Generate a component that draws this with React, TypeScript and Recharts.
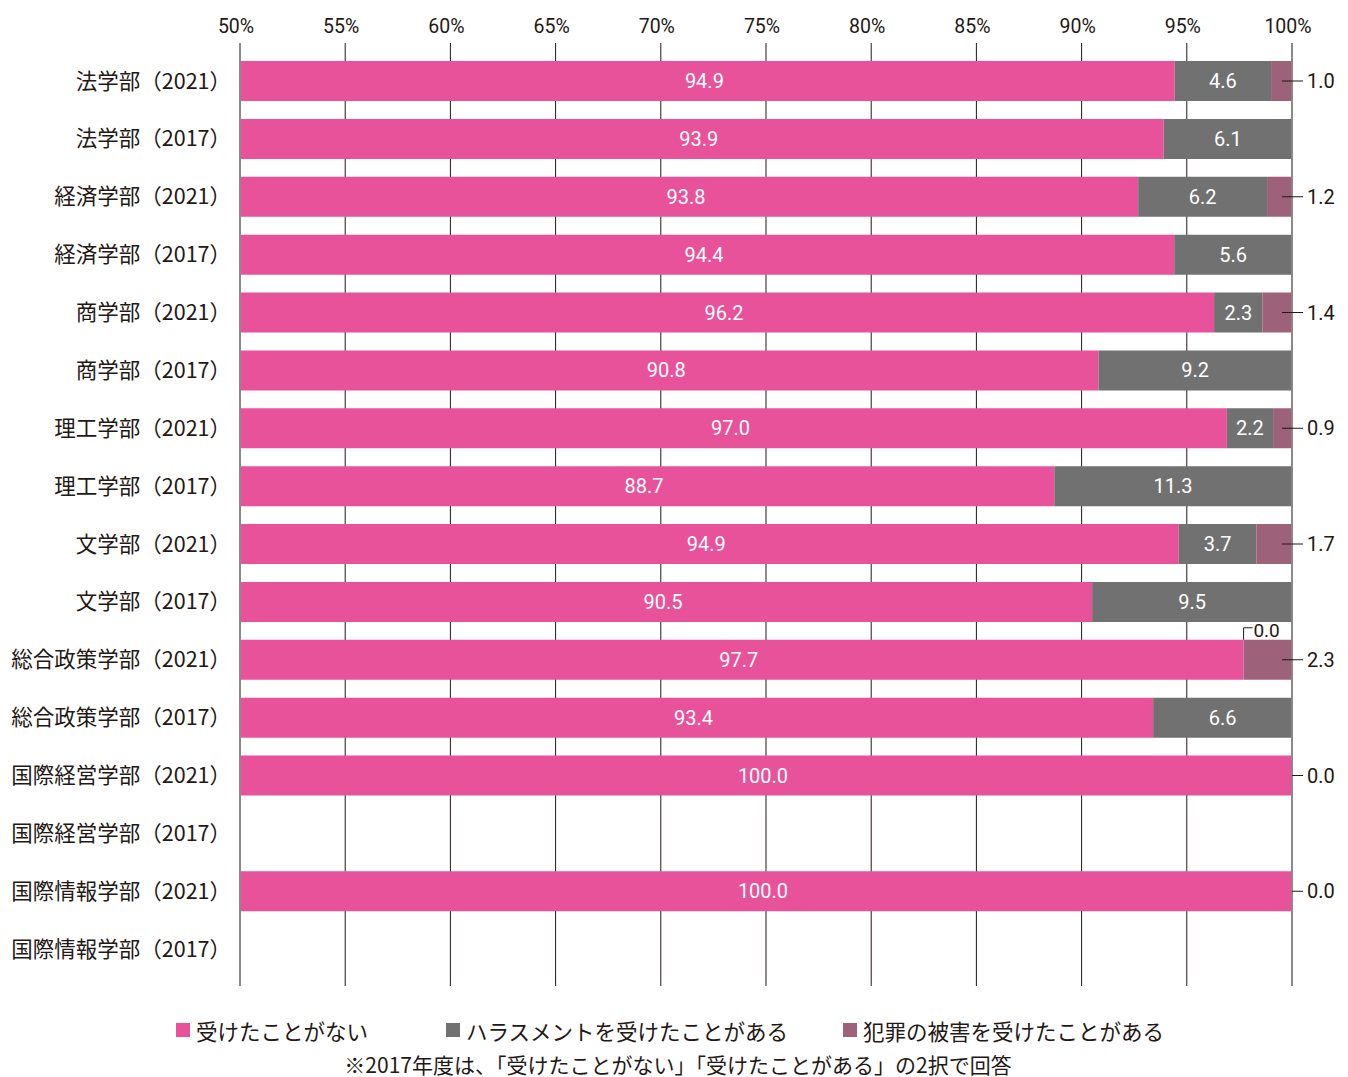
import {
  BarChart,
  Bar,
  XAxis,
  YAxis,
  CartesianGrid,
  ReferenceLine,
  LabelList
} from "recharts";

const categories = [
  "法学部（2021）",
  "法学部（2017）",
  "経済学部（2021）",
  "経済学部（2017）",
  "商学部（2021）",
  "商学部（2017）",
  "理工学部（2021）",
  "理工学部（2017）",
  "文学部（2021）",
  "文学部（2017）",
  "総合政策学部（2021）",
  "総合政策学部（2017）",
  "国際経営学部（2021）",
  "国際経営学部（2017）",
  "国際情報学部（2021）",
  "国際情報学部（2017）"
];

// 受けたことがない
const neverValues = [94.9, 93.9, 93.8, 94.4, 96.2, 90.8, 97.0, 88.7, 94.9, 90.5, 97.7, 93.4, 100.0, null, 100.0, null];
// ハラスメントを受けたことがある
const harassmentValues = [4.6, 6.1, 6.2, 5.6, 2.3, 9.2, 2.2, 11.3, 3.7, 9.5, 0.0, 6.6, null, null, null, null];
// 犯罪の被害を受けたことがある
const crimeValues = [1.0, null, 1.2, null, 1.4, null, 0.9, null, 1.7, null, 2.3, null, 0.0, null, 0.0, null];

const seriesNames = ["受けたことがない", "ハラスメントを受けたことがある", "犯罪の被害を受けたことがある"];
const xTicks = [50, 55, 60, 65, 70, 75, 80, 85, 90, 95, 100];
const note = "※2017年度は、「受けたことがない」「受けたことがある」の2択で回答";

const PINK = "#E8529A";
const GRAY = "#727171";
const MAUVE = "#9E617A";
const INK = "#231815";
const PLOT_LEFT = 232;

// 元の図は回答の合計を100%として描いている
const data = categories.map((name, i) => {
  const a = neverValues[i];
  const b = harassmentValues[i];
  const c = crimeValues[i];
  const total = (a ?? 0) + (b ?? 0) + (c ?? 0);
  const share = (v: number | null) => (v == null || total === 0 ? null : (v / total) * 100);
  return {
    name,
    never: share(a),
    harassment: share(b),
    crime: share(c),
    neverRaw: a,
    harassmentRaw: b,
    crimeRaw: c
  };
});

const numFont = "Roboto, 'Liberation Sans', sans-serif";
const jpFont = "'Noto Sans CJK JP', sans-serif";

function box(props: any) {
  const vb = props.viewBox ?? props;
  return { x: Number(vb.x), y: Number(vb.y), width: Number(vb.width), height: Number(vb.height) };
}

// 幅0の棒はラベルが出ないので、0.0 の表示は左隣の棒の端から描く
function zeroHarassment(x: number, y: number) {
  return (
    <g>
      <polyline points={`${x},${y} ${x},${y - 12} ${x + 9},${y - 12}`} fill="none" stroke={INK} strokeWidth={1} />
      <text x={x + 23} y={y - 9} textAnchor="middle" dominantBaseline="central" fill={INK} fontSize={19} fontFamily={numFont}>
        0.0
      </text>
    </g>
  );
}

function crimeMark(x: number, right: number, cy: number, v: number) {
  return (
    <g>
      <line x1={Math.max(x, right - 10)} y1={cy} x2={right + 11} y2={cy} stroke={INK} strokeWidth={1} />
      <text x={right + 15} y={cy} textAnchor="start" dominantBaseline="central" fill={INK} fontSize={20} fontFamily={numFont}>
        {v.toFixed(1)}
      </text>
    </g>
  );
}

function NeverLabel(props: any) {
  const row = props.value;
  if (!row || row.neverRaw == null) return null;
  const { x, y, width, height } = box(props);
  const left = Math.max(x, PLOT_LEFT);
  const right = x + width;
  const cx = (left + right) / 2 - 3;
  const cy = y + height / 2;
  return (
    <g>
      <text x={cx} y={cy} textAnchor="middle" dominantBaseline="central" fill="#fff" fontSize={20} fontFamily={numFont}>
        {Number(row.neverRaw).toFixed(1)}
      </text>
      {row.harassmentRaw === 0 ? zeroHarassment(right, y) : null}
      {row.harassmentRaw == null && row.crimeRaw === 0 ? crimeMark(right, right, cy, 0) : null}
    </g>
  );
}

function HarassmentLabel(props: any) {
  const v = props.value;
  if (v == null || Number(v) === 0) return null;
  const { x, y, width, height } = box(props);
  return (
    <text x={x + width / 2} y={y + height / 2} textAnchor="middle" dominantBaseline="central" fill="#fff" fontSize={20} fontFamily={numFont}>
      {Number(v).toFixed(1)}
    </text>
  );
}

function CrimeLabel(props: any) {
  const v = props.value;
  if (v == null || Number(v) === 0) return null;
  const { x, y, width, height } = box(props);
  return crimeMark(x, x + width, y + height / 2, Number(v));
}

function App() {
  const colors = [PINK, GRAY, MAUVE];
  const legendX = [168, 438, 835];

  return (
    <div style={{ position: "relative", width: 1340, height: 1068, background: "#fff" }}>
      <BarChart
        width={1340}
        height={1000}
        data={data}
        layout="vertical"
        barSize={40}
        margin={{ top: 5, right: 56, bottom: 22, left: 0 }}
      >
        <CartesianGrid horizontal={false} stroke={INK} />
        <XAxis
          type="number"
          orientation="top"
          domain={[50, 100]}
          allowDataOverflow
          ticks={xTicks}
          interval={0}
          tickFormatter={(v: number) => `${v}%`}
          axisLine={false}
          tickLine={false}
          tickSize={0}
          tickMargin={10}
          height={30}
          tick={{ fill: INK, fontSize: 19.5, fontFamily: numFont, dx: -4 }}
        />
        <YAxis
          type="category"
          dataKey="name"
          width={232}
          interval={0}
          axisLine={false}
          tickLine={false}
          tickSize={0}
          tickMargin={9}
          padding={{ top: 9, bottom: 8 }}
          tick={{ fill: INK, fontSize: 21.5, fontFamily: jpFont }}
        />
        <Bar dataKey="never" stackId="a" fill={PINK} isAnimationActive={false}>
          <LabelList dataKey={(row: any) => row} content={NeverLabel} />
        </Bar>
        <Bar dataKey="harassment" stackId="a" fill={GRAY} isAnimationActive={false}>
          <LabelList dataKey="harassmentRaw" content={HarassmentLabel} />
        </Bar>
        <Bar dataKey="crime" stackId="a" fill={MAUVE} isAnimationActive={false}>
          <LabelList dataKey="crimeRaw" content={CrimeLabel} />
        </Bar>
        <ReferenceLine x={50} stroke="#8a8a8a" strokeWidth={1.5} />
        <ReferenceLine x={100} stroke="#8a8a8a" strokeWidth={1.5} />
      </BarChart>

      {/* 凡例 */}
      {seriesNames.map((s, i) => (
        <div
          key={s}
          style={{
            position: "absolute",
            left: legendX[i],
            top: 1010,
            height: 24,
            display: "flex",
            alignItems: "center",
            fontFamily: jpFont,
            fontSize: 21.5,
            color: INK,
            whiteSpace: "nowrap"
          }}
        >
          <span style={{ display: "inline-block", width: 14, height: 14, background: colors[i], marginRight: 6 }} />
          {s}
        </div>
      ))}
      <div
        style={{
          position: "absolute",
          left: 0,
          width: 1340,
          top: 1045,
          height: 22,
          lineHeight: "22px",
          textAlign: "center",
          fontFamily: jpFont,
          fontSize: 21,
          color: INK,
          whiteSpace: "nowrap"
        }}
      >
        {note}
      </div>
    </div>
  );
}

export default App;
